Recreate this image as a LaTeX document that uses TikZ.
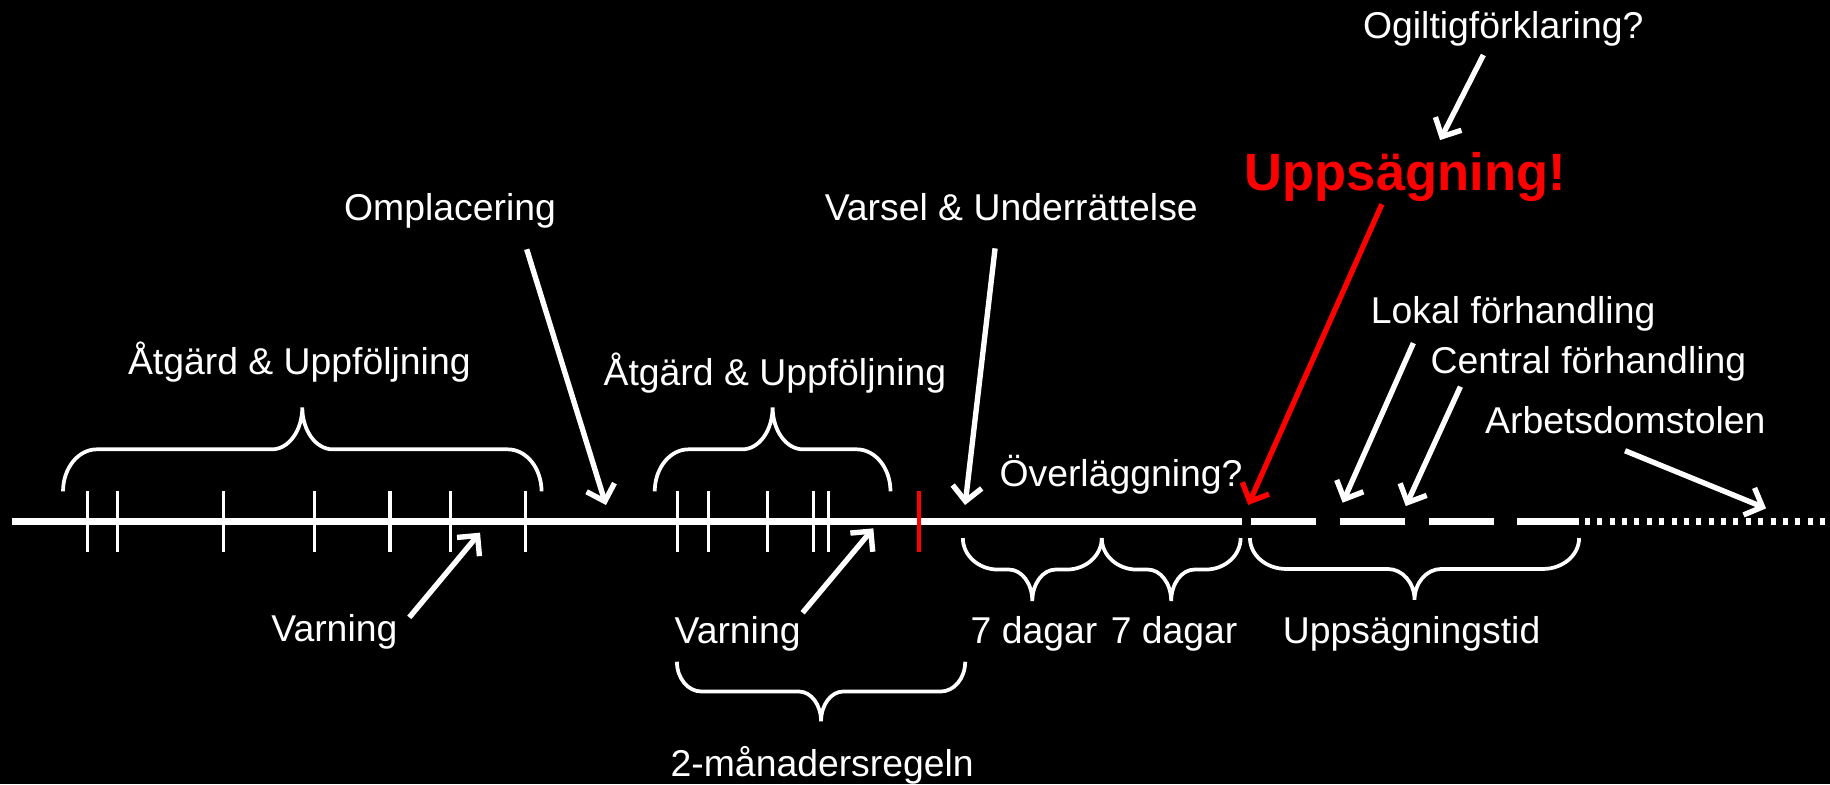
\documentclass[tikz,border=0pt]{standalone}
\usepackage{fontspec}
\setmainfont{Liberation Sans}
\usetikzlibrary{arrows.meta}

% Curly brace from x=#1 to x=#2, ends at y=#3, tip at y=#4,
% end corner radius #5, centre corner radius #6
\newcommand\tlbrace[6]{%
  \pgfmathsetmacro\tlXc{(#1+#2)/2}%
  \pgfmathsetmacro\tlYm{(#3+#4)/2}%
  \pgfmathsetmacro\tlYa{#3+0.552*(\tlYm-#3)}%
  \pgfmathsetmacro\tlYb{#4+0.552*(\tlYm-#4)}%
  \draw[bracepath] (#1,#3) .. controls (#1,\tlYa) and ({#1+0.448*#5},\tlYm) .. ({#1+#5},\tlYm)
    -- ({\tlXc-#6},\tlYm) .. controls ({\tlXc-0.448*#6},\tlYm) and (\tlXc,\tlYb) .. (\tlXc,#4)
    .. controls (\tlXc,\tlYb) and ({\tlXc+0.448*#6},\tlYm) .. ({\tlXc+#6},\tlYm)
    -- ({#2-#5},\tlYm) .. controls ({#2-0.448*#5},\tlYm) and (#2,\tlYa) .. (#2,#3);
}

\begin{document}
\begin{tikzpicture}[x=1pt,y=-1pt,
  lbl/.style={text=white, font=\fontsize{32}{38}\selectfont, anchor=base, inner sep=0pt},
  timeline/.style={white, line width=6.3pt},
  tick/.style={white, line width=2.8pt},
  bracepath/.style={white, line width=3.2pt},
  pil/.style={white, line width=4.6pt, -{Straight Barb[length=12.5pt,width=25pt]}},
]
\fill[black] (0,0) rectangle (1568,672);
\useasboundingbox (0,0) rectangle (1568,672);

% time axis: solid, dashed notice period, dotted future
\coordinate (ax0) at (10,447);
\coordinate (ax1) at (1064,447);
\coordinate (ax2) at (1072,447);
\coordinate (ax3) at (1353,447);
\coordinate (ax4) at (1358,447);
\coordinate (ax5) at (1568,447);
\draw[timeline] (ax0) -- (ax1);
\draw[timeline, dash pattern=on 56pt off 20pt] (ax2) -- (ax3);
\draw[white, line width=5.7pt, dash pattern=on 4.3pt off 6.3pt] (ax4) -- (ax5);

% event ticks
\foreach \x in {75.2,100.6,191.8,269.3,334.2,386,450.5,580.7,607,657.8,696.9,709.7}
  \draw[tick] (\x,421) -- (\x,473);
\draw[tick, red, line width=3pt] (787.4,421) -- (787.4,473);

% braces
\tlbrace{54}{464}{421}{349}{29}{26}
\tlbrace{561}{763}{421}{349}{29}{26}
\tlbrace{825}{944}{461}{515}{30}{20}
\tlbrace{944}{1063}{461}{515}{30}{20}
\tlbrace{1071}{1353}{461}{514}{31}{23}
\tlbrace{580}{827}{567}{618}{21}{19}

% labels
\node[lbl] (atg1) at (256.5,321) {Åtgärd \& Uppföljning};
\node[lbl] (atg2) at (664,330) {Åtgärd \& Uppföljning};
\node[lbl] (ompl) at (385.6,188.5) {Omplacering};
\node[lbl] (varsel) at (866.5,189) {Varsel \& Underrättelse};
\node[lbl, text=red, font=\bfseries\fontsize{45}{54}\selectfont] (upps) at (1204,162.8) {Uppsägning!};
\node[lbl] (ogil) at (1288,32.9) {Ogiltigförklaring?};
\node[lbl] (lokal) at (1296.5,277) {Lokal förhandling};
\node[lbl] (central) at (1361,320) {Central förhandling};
\node[lbl] (ad) at (1392.6,371.3) {Arbetsdomstolen};
\node[lbl] (overl) at (960.5,417) {Överläggning?};
\node[lbl] (varn1) at (286.5,550) {Varning};
\node[lbl] (varn2) at (632,551) {Varning};
\node[lbl] (dag1) at (886,551) {7 dagar};
\node[lbl] (dag2) at (1006,551) {7 dagar};
\node[lbl] (utid) at (1209.5,551) {Uppsägningstid};
\node[lbl] (tvam) at (704.5,665) {2-månadersregeln};

% arrow end points
\coordinate (omplS) at (451.3,213.6);   \coordinate (omplT) at (519.2,432.7);
\coordinate (varselS) at (852.6,212.8); \coordinate (varselT) at (826.9,432.7);
\coordinate (varn1S) at (350.7,529);    \coordinate (varn1T) at (411.3,456.4);
\coordinate (varn2S) at (687.7,525);    \coordinate (varn2T) at (748.3,452.7);
\coordinate (uppsS) at (1184,175);      \coordinate (uppsT) at (1069.5,432.7);
\coordinate (ogilS) at (1271,47.1);     \coordinate (ogilT) at (1233.9,120);
\coordinate (lokalS) at (1211,294);     \coordinate (lokalT) at (1150.4,430.7);
\coordinate (centralS) at (1251.3,331.3); \coordinate (centralT) at (1204.5,433.6);
\coordinate (adS) at (1392.4,386.2);    \coordinate (adT) at (1513.2,435.6);

\draw[pil] (omplS) -- (omplT);
\draw[pil] (varselS) -- (varselT);
\draw[pil] (varn1S) -- (varn1T);
\draw[pil] (varn2S) -- (varn2T);
\draw[pil, red] (uppsS) -- (uppsT);
\draw[pil] (ogilS) -- (ogilT);
\draw[pil] (lokalS) -- (lokalT);
\draw[pil] (centralS) -- (centralT);
\draw[pil] (adS) -- (adT);
\end{tikzpicture}
\end{document}
